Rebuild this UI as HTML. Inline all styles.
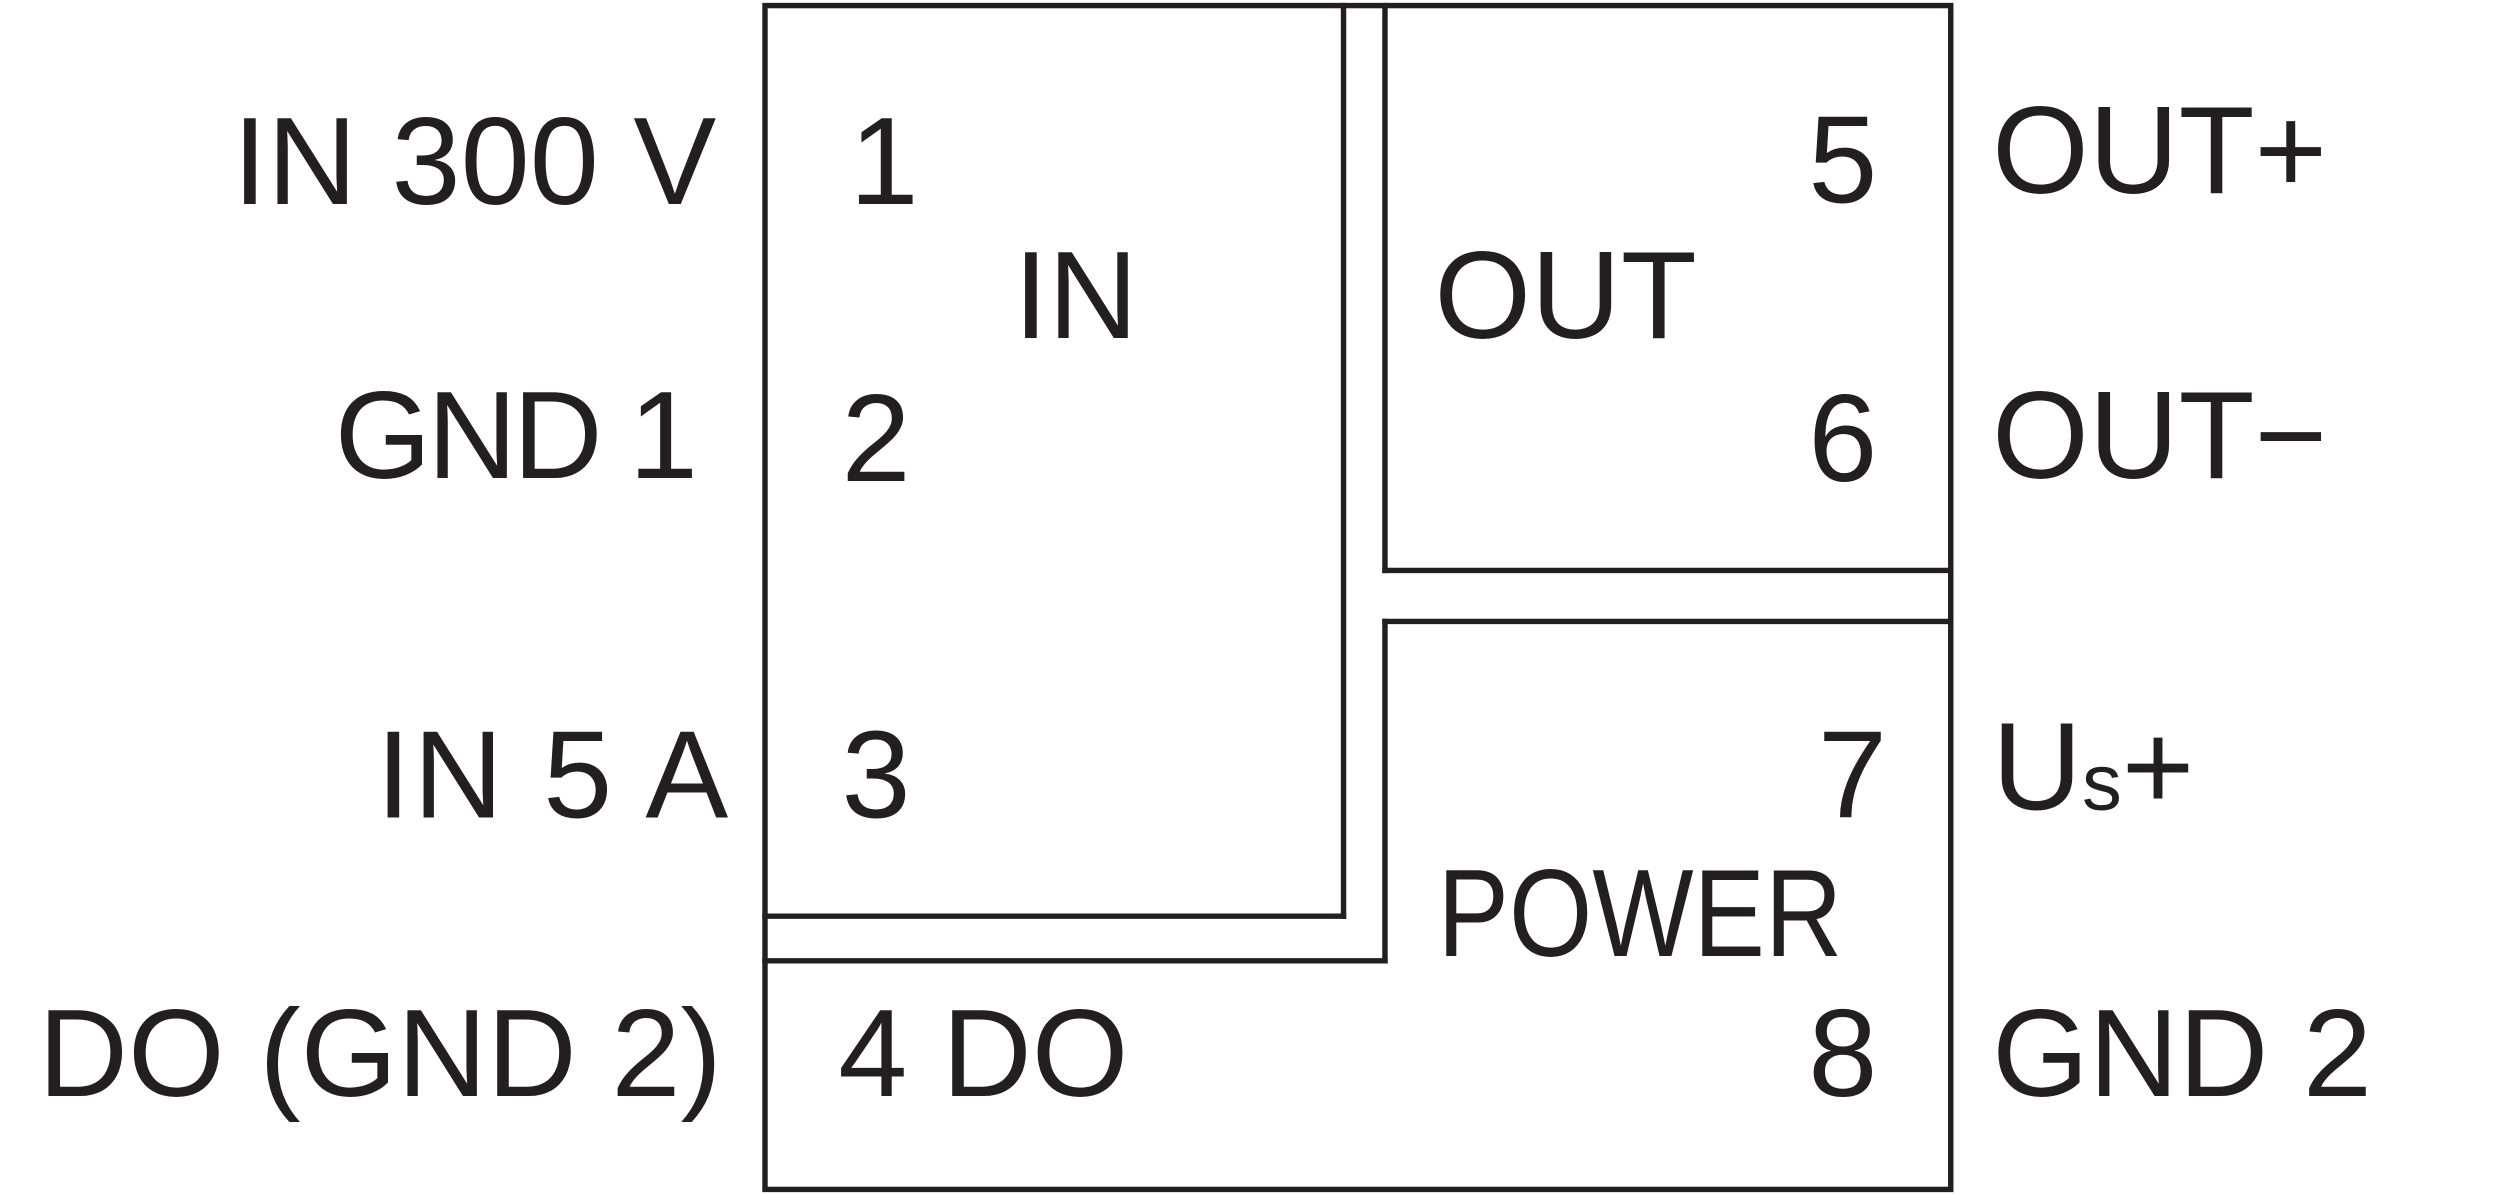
<!DOCTYPE html>
<html><head><meta charset="utf-8"><style>
html,body{margin:0;padding:0;background:#fff;}
svg{display:block;}
text{font-family:"Liberation Sans",sans-serif;font-size:78px;fill:#231f20;}
</style></head><body>
<svg width="2499" height="1195" viewBox="0 0 1568 750" preserveAspectRatio="none" xmlns="http://www.w3.org/2000/svg">
<g stroke="#231f20" stroke-width="3.4" fill="none" stroke-linecap="square">
<rect x="480" y="3.5" width="744" height="743"/>
<line x1="843" y1="3.5" x2="843" y2="575"/>
<line x1="480" y1="575" x2="843" y2="575"/>
<line x1="869" y1="3.5" x2="869" y2="358"/>
<line x1="869" y1="358" x2="1224" y2="358"/>
<line x1="869" y1="390" x2="1224" y2="390"/>
<line x1="869" y1="390" x2="869" y2="603"/>
<line x1="480" y1="603" x2="869" y2="603"/>
</g>
<text x="146" y="128">IN 300 V</text>
<text x="210" y="300" textLength="228">GND 1</text>
<text x="236" y="513" textLength="221">IN 5 A</text>
<text x="24" y="688">DO (GND 2)</text>
<g text-anchor="end">
<text x="1178" y="127">5</text>
<text x="1178" y="302">6</text>
<text x="1184" y="513">7</text>
<text x="1178" y="688">8</text>
</g>
<text x="533" y="128">1</text>
<text x="528" y="302">2</text>
<text x="528" y="513">3</text>
<text x="526" y="688">4 DO</text>
<text x="636" y="212">IN</text>
<text x="900" y="212">OUT</text>
<text x="902" y="600" textLength="254" lengthAdjust="spacingAndGlyphs">POWER</text>
<text x="1250" y="121">OUT+</text>
<text x="1250" y="300">OUT−</text>
<text x="1250" y="508">U<tspan font-size="50">s</tspan>+</text>
<text x="1250" y="688">GND 2</text>
</svg>
</body></html>
